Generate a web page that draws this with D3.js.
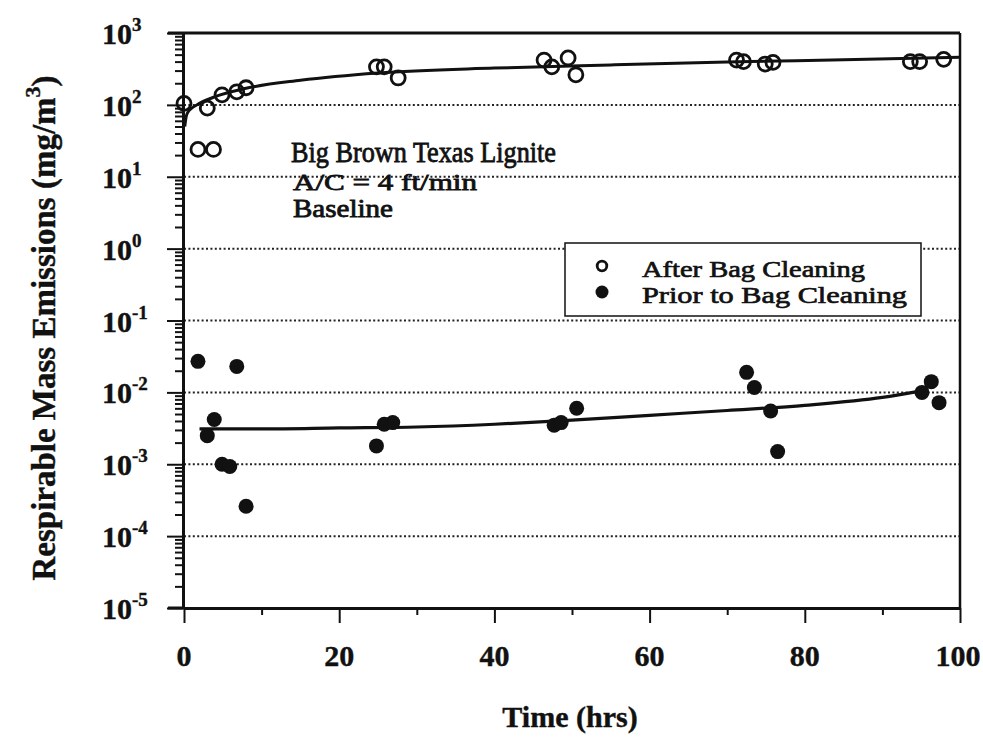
<!DOCTYPE html>
<html lang="en">
  <head>
    <meta charset="utf-8">
    <title>Respirable Mass Emissions - D3</title>
    <style>
      body { margin: 0; background: #fff; }
      text { font-family: "Liberation Serif", "Times New Roman", serif; fill: #111; }
    </style>
  </head>
  <body>
    <div id="dataviz_area"></div>
    <script src="https://d3js.org/d3.v7.min.js"></script>
    <script>
      // data
      var afterTime  = [0, 1.8, 3, 3.8, 4.9, 6.8, 8, 24.8, 25.8, 27.6, 46.4, 47.4, 49.5, 50.5, 71.2, 72.1, 74.9, 75.9, 93.6, 94.8, 97.9]
      var afterValue = [105, 24, 90, 24, 138, 152, 173, 338, 338, 237, 420, 338, 450, 262, 420, 400, 370, 390, 400, 400, 430]

      var priorTime  = [1.8, 3, 3.9, 4.9, 5.9, 6.8, 8, 24.8, 25.8, 26.9, 47.7, 48.6, 50.6, 72.5, 73.5, 75.6, 76.5, 95.1, 96.3, 97.3]
      var priorValue = [0.027, 0.0025, 0.0042, 0.001, 0.00093, 0.023, 0.00026, 0.0018, 0.0036, 0.0038, 0.0035, 0.0038, 0.006, 0.019, 0.0117, 0.0055, 0.0015, 0.01, 0.0141, 0.0072]

      // fitted curves (traced)
      var afterFitTime  = [0.1, 0.3, 0.6, 1, 2, 4, 8, 15, 25, 40, 55, 70, 85, 100]
      var afterFitValue = [50, 70, 82, 90, 105, 130, 170, 220, 278, 325, 360, 395, 425, 460]
      var priorFitTime  = [2, 10, 20, 30, 40, 50, 60, 70, 80, 90, 95]
      var priorFitValue = [0.0031, 0.0031, 0.0032, 0.0033, 0.0036, 0.0041, 0.0048, 0.0056, 0.0066, 0.0085, 0.0105]

      var xTicks = [0, 20, 40, 60, 80, 100]
      var xMinorTicks = [10, 30, 50, 70, 90]
      var yExponents = [3, 2, 1, 0, -1, -2, -3, -4, -5]

      var W = 983, H = 743
      var margins = {top: 33, right: 23, bottom: 135, left: 184}

      var svg = d3.select("#dataviz_area")
        .append("svg")
          .attr("width", W)
          .attr("height", H)

      var x = d3.scaleLinear()
        .domain([0, 100])
        .range([margins.left, W - margins.right])

      var y = d3.scaleLog()
        .domain([1e-5, 1e3])
        .range([H - margins.bottom, margins.top])

      var majors = yExponents.map(function(e) { return Math.pow(10, e) })
      var minors = []
      majors.forEach(function(m) {
        if (m >= 1e3) return
        for (var k = 2; k <= 9; k++) minors.push(m * k)
      })

      // dotted grid lines at inner decades
      svg.append("g")
        .selectAll("line")
        .data(majors.filter(function(d) { return d < 1e3 && d > 1e-5 }))
        .join("line")
          .attr("x1", x(0))
          .attr("x2", x(100))
          .attr("y1", function(d) { return y(d) })
          .attr("y2", function(d) { return y(d) })
          .style("stroke", "#222")
          .style("stroke-width", 2)
          .style("stroke-dasharray", "2,2.4")

      // frame: top and right
      svg.append("line")
        .attr("x1", x(0)).attr("x2", x(100))
        .attr("y1", y(1e3)).attr("y2", y(1e3))
        .style("stroke", "#111").style("stroke-width", 3)
      svg.append("line")
        .attr("x1", x(100)).attr("x2", x(100))
        .attr("y1", y(1e3)).attr("y2", y(1e-5))
        .style("stroke", "#111").style("stroke-width", 2.5)

      // left axis
      var yAxisMajor = svg.append("g")
        .attr("transform", "translate(" + (x(0) - 1) + ",0)")
        .call(d3.axisLeft(y).tickValues(majors).tickSize(16).tickSizeOuter(0).tickFormat(""))
      var yAxisMinor = svg.append("g")
        .attr("transform", "translate(" + (x(0) - 1) + ",0)")
        .call(d3.axisLeft(y).tickValues(minors).tickSize(8).tickSizeOuter(0).tickFormat(""))
      yAxisMinor.select(".domain").remove()

      // bottom axis
      var xAxisMajor = svg.append("g")
        .attr("transform", "translate(0," + y(1e-5) + ")")
        .call(d3.axisBottom(x).tickValues(xTicks).tickSize(15).tickSizeOuter(0).tickFormat(""))
      var xAxisMinor = svg.append("g")
        .attr("transform", "translate(0," + y(1e-5) + ")")
        .call(d3.axisBottom(x).tickValues(xMinorTicks).tickSize(7).tickSizeOuter(0).tickFormat(""))
      xAxisMinor.select(".domain").remove()

      svg.selectAll(".tick line").style("stroke", "#111").style("stroke-width", 2)
      svg.selectAll(".domain").style("stroke", "#111").style("stroke-width", 3)

      // extend bottom and top lines to the left
      svg.append("line")
        .attr("x1", x(0) - 16).attr("x2", x(0))
        .attr("y1", y(1e-5)).attr("y2", y(1e-5))
        .style("stroke", "#111").style("stroke-width", 3)
      svg.append("line")
        .attr("x1", x(0) - 16).attr("x2", x(0))
        .attr("y1", y(1e3)).attr("y2", y(1e3))
        .style("stroke", "#111").style("stroke-width", 3)

      // y tick labels: 10 with superscript exponent
      var yLabels = svg.append("g")
        .selectAll("text")
        .data(yExponents)
        .join("text")
          .attr("x", 102)
          .attr("y", function(e) { return y(Math.pow(10, e)) + 11 })
          .style("font-size", "30px")
          .style("font-weight", "bold")
          .style("stroke", "#111").style("stroke-width", 0.4)
      yLabels.append("tspan").text("10")
      yLabels.append("tspan")
        .attr("dy", -13)
        .style("font-size", "19px")
        .text(function(e) { return e })

      // x tick labels
      svg.append("g")
        .selectAll("text")
        .data(xTicks)
        .join("text")
          .attr("x", function(d) { return x(d) - (d === 100 ? 2 : 0) })
          .attr("y", 666)
          .attr("text-anchor", "middle")
          .style("font-size", "30px")
          .style("font-weight", "bold")
          .style("stroke", "#111").style("stroke-width", 0.4)
          .text(function(d) { return d })

      // axis titles
      svg.append("text")
        .attr("x", 570)
        .attr("y", 727)
        .attr("text-anchor", "middle")
        .style("font-size", "30px")
        .style("font-weight", "bold")
        .style("stroke", "#111").style("stroke-width", 0.4)
        .text("Time (hrs)")

      var yTitle = svg.append("text")
        .attr("transform", "translate(55,328) rotate(-90)")
        .attr("text-anchor", "middle")
        .style("font-size", "33px")
        .style("font-weight", "bold")
        .style("stroke", "#111").style("stroke-width", 0.4)
      yTitle.append("tspan").text("Respirable Mass Emissions (mg/m")
      yTitle.append("tspan").attr("dy", -15).style("font-size", "22px").text("3")
      yTitle.append("tspan").attr("dy", 15).text(")")

      // fit lines
      var line = d3.line()
        .x(function(d) { return x(d[0]) })
        .y(function(d) { return y(d[1]) })
        .curve(d3.curveMonotoneX)

      svg.append("path")
        .datum(d3.zip(afterFitTime, afterFitValue))
        .attr("d", line)
        .style("fill", "none")
        .style("stroke", "#111")
        .style("stroke-width", 3)

      svg.append("path")
        .datum(d3.zip(priorFitTime, priorFitValue))
        .attr("d", line)
        .style("fill", "none")
        .style("stroke", "#111")
        .style("stroke-width", 3.2)

      // points
      svg.append("g")
        .selectAll("circle")
        .data(d3.zip(afterTime, afterValue))
        .join("circle")
          .attr("cx", function(d) { return x(d[0]) })
          .attr("cy", function(d) { return y(d[1]) })
          .attr("r", 7)
          .style("fill", "none")
          .style("stroke", "#111")
          .style("stroke-width", 2.8)

      svg.append("g")
        .selectAll("circle")
        .data(d3.zip(priorTime, priorValue))
        .join("circle")
          .attr("cx", function(d) { return x(d[0]) })
          .attr("cy", function(d) { return y(d[1]) })
          .attr("r", 7.5)
          .style("fill", "#111")

      // annotation
      svg.append("text")
        .attr("x", 291).attr("y", 162)
        .attr("textLength", 265).attr("lengthAdjust", "spacingAndGlyphs")
        .style("font-size", "29px")
        .style("stroke", "#111").style("stroke-width", 0.8)
        .text("Big Brown Texas Lignite")
      svg.append("text")
        .attr("x", 293).attr("y", 190)
        .attr("textLength", 184).attr("lengthAdjust", "spacingAndGlyphs")
        .style("font-size", "24px")
        .style("stroke", "#111").style("stroke-width", 0.8)
        .text("A/C = 4 ft/min")
      svg.append("text")
        .attr("x", 293).attr("y", 217)
        .attr("textLength", 100).attr("lengthAdjust", "spacingAndGlyphs")
        .style("font-size", "25px")
        .style("stroke", "#111").style("stroke-width", 0.8)
        .text("Baseline")

      // legend
      var legend = svg.append("g")
      legend.append("rect")
        .attr("x", 565).attr("y", 243)
        .attr("width", 356).attr("height", 73)
        .style("fill", "#fff")
        .style("stroke", "#111")
        .style("stroke-width", 1.5)
      legend.append("circle")
        .attr("cx", 602).attr("cy", 266).attr("r", 4.8)
        .style("fill", "none").style("stroke", "#111").style("stroke-width", 2.8)
      legend.append("circle")
        .attr("cx", 602).attr("cy", 292).attr("r", 6.5)
        .style("fill", "#111")
      legend.append("text")
        .attr("x", 642).attr("y", 277)
        .attr("textLength", 223).attr("lengthAdjust", "spacingAndGlyphs")
        .style("font-size", "24px")
        .style("stroke", "#111").style("stroke-width", 0.7)
        .text("After Bag Cleaning")
      legend.append("text")
        .attr("x", 642).attr("y", 303)
        .attr("textLength", 265).attr("lengthAdjust", "spacingAndGlyphs")
        .style("font-size", "24px")
        .style("stroke", "#111").style("stroke-width", 0.7)
        .text("Prior to Bag Cleaning")
    </script>
  </body>
</html>
